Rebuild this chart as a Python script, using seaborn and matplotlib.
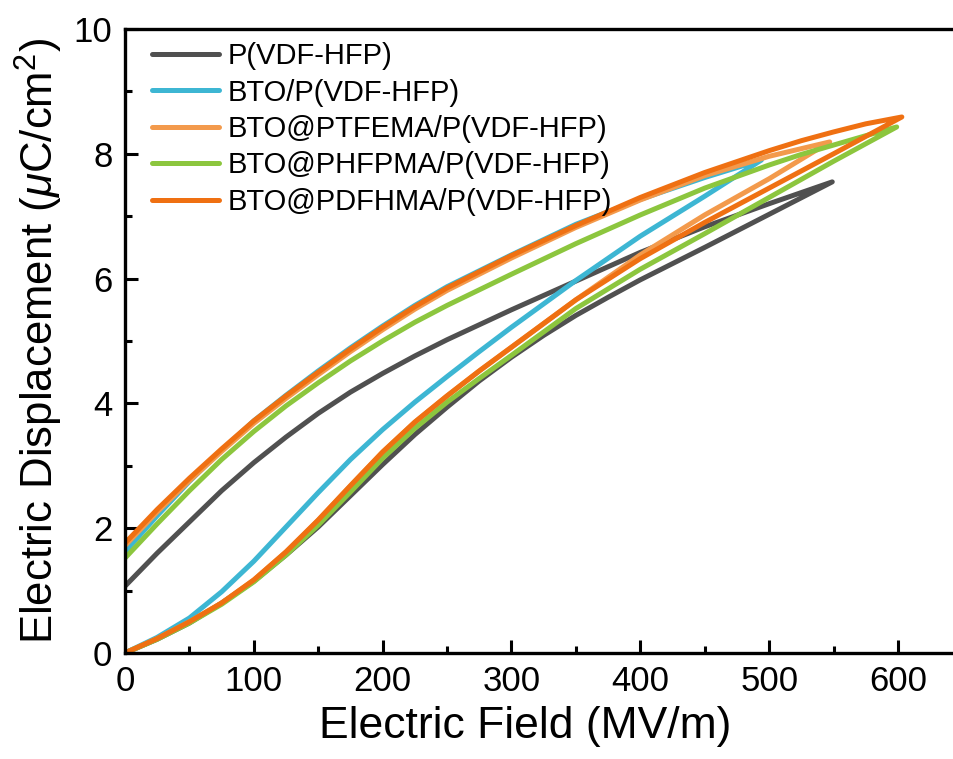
import matplotlib
matplotlib.use("Agg")
import matplotlib.pyplot as plt
from matplotlib.ticker import MultipleLocator
import pandas as pd
import seaborn as sns

# unipolar D-E loops: charging branch (E up), then discharging branch (E down)
pvdf_e_up = [0, 25, 50, 75, 100, 125, 150, 175, 200, 225, 250, 275, 300, 325, 350, 375, 400, 450, 500, 549]
pvdf_d_up = [0, 0.22, 0.48, 0.8, 1.15, 1.57, 2.02, 2.52, 3.02, 3.5, 3.94, 4.36, 4.74, 5.09, 5.41, 5.7, 5.98, 6.5, 7.03, 7.55]
pvdf_e_down = [549, 500, 450, 400, 350, 300, 250, 225, 200, 175, 150, 125, 100, 75, 50, 25, 0]
pvdf_d_down = [7.55, 7.2, 6.83, 6.42, 5.96, 5.5, 5.02, 4.76, 4.48, 4.18, 3.84, 3.46, 3.05, 2.6, 2.1, 1.6, 1.07]

bto_e_up = [0, 25, 50, 75, 100, 125, 150, 175, 200, 225, 250, 275, 300, 350, 400, 450, 494]
bto_d_up = [0, 0.25, 0.56, 0.98, 1.47, 2.02, 2.57, 3.1, 3.58, 4.02, 4.43, 4.83, 5.22, 5.97, 6.68, 7.32, 7.9]
bto_e_down = [494, 450, 400, 350, 300, 250, 225, 200, 175, 150, 125, 100, 75, 50, 25, 0]
bto_d_down = [7.9, 7.62, 7.27, 6.87, 6.38, 5.87, 5.57, 5.24, 4.89, 4.52, 4.13, 3.72, 3.25, 2.75, 2.2, 1.62]

ptfema_e_up = [0, 25, 50, 75, 100, 125, 150, 175, 200, 225, 250, 275, 300, 350, 400, 450, 500, 547]
ptfema_d_up = [0, 0.23, 0.5, 0.8, 1.17, 1.62, 2.13, 2.68, 3.22, 3.7, 4.12, 4.52, 4.9, 5.66, 6.38, 7.02, 7.6, 8.19]
ptfema_e_down = [547, 500, 450, 400, 350, 300, 250, 225, 200, 175, 150, 125, 100, 75, 50, 25, 0]
ptfema_d_down = [8.19, 7.96, 7.65, 7.26, 6.82, 6.33, 5.81, 5.51, 5.18, 4.83, 4.46, 4.08, 3.68, 3.23, 2.76, 2.26, 1.72]

phfpma_e_up = [0, 25, 50, 75, 100, 125, 150, 175, 200, 225, 250, 275, 300, 350, 400, 450, 500, 550, 599]
phfpma_d_up = [0, 0.22, 0.48, 0.78, 1.14, 1.57, 2.05, 2.58, 3.12, 3.6, 4.02, 4.4, 4.77, 5.52, 6.15, 6.72, 7.3, 7.88, 8.43]
phfpma_e_down = [599, 575, 550, 525, 500, 450, 400, 350, 300, 250, 225, 200, 175, 150, 125, 100, 75, 50, 25, 0]
phfpma_d_down = [8.43, 8.29, 8.14, 7.99, 7.82, 7.45, 7.02, 6.56, 6.07, 5.57, 5.3, 5.0, 4.68, 4.33, 3.96, 3.55, 3.1, 2.6, 2.07, 1.52]

pdfhma_e_up = [0, 25, 50, 75, 100, 125, 150, 175, 200, 225, 250, 275, 300, 350, 400, 450, 500, 550, 603]
pdfhma_d_up = [0, 0.23, 0.5, 0.8, 1.17, 1.62, 2.13, 2.68, 3.22, 3.7, 4.12, 4.52, 4.9, 5.66, 6.32, 6.9, 7.45, 8.0, 8.59]
pdfhma_e_down = [603, 575, 550, 525, 500, 450, 400, 350, 300, 250, 225, 200, 175, 150, 125, 100, 75, 50, 25, 0]
pdfhma_d_down = [8.59, 8.48, 8.35, 8.21, 8.05, 7.7, 7.3, 6.85, 6.37, 5.85, 5.55, 5.22, 4.87, 4.5, 4.12, 3.72, 3.27, 2.8, 2.3, 1.76]

muestras = [
    "P(VDF-HFP)",
    "BTO/P(VDF-HFP)",
    "BTO@PTFEMA/P(VDF-HFP)",
    "BTO@PHFPMA/P(VDF-HFP)",
    "BTO@PDFHMA/P(VDF-HFP)",
]
colores = ["#505050", "#3db6d3", "#f39a4c", "#8cc63e", "#ef7012"]

lazos = [
    (pvdf_e_up + pvdf_e_down, pvdf_d_up + pvdf_d_down),
    (bto_e_up + bto_e_down, bto_d_up + bto_d_down),
    (ptfema_e_up + ptfema_e_down, ptfema_d_up + ptfema_d_down),
    (phfpma_e_up + phfpma_e_down, phfpma_d_up + phfpma_d_down),
    (pdfhma_e_up + pdfhma_e_down, pdfhma_d_up + pdfhma_d_down),
]

filas = []
for nombre, (campo, desplazamiento) in zip(muestras, lazos):
    for e, d in zip(campo, desplazamiento):
        filas.append({"muestra": nombre, "E": e, "D": d})
df = pd.DataFrame(filas)

sns.set_style("ticks")
plt.rcParams["font.family"] = ["Liberation Sans", "DejaVu Sans"]
plt.rcParams["mathtext.fontset"] = "custom"
plt.rcParams["mathtext.rm"] = "Liberation Sans"
plt.rcParams["mathtext.it"] = "Liberation Sans:italic"
for clave in ["text.color", "axes.labelcolor", "xtick.color", "ytick.color", "axes.edgecolor"]:
    plt.rcParams[clave] = "black"

fig = plt.figure(figsize=(9.54, 7.59), dpi=100)
ax = fig.add_axes([0.131, 0.1397, 0.8778, 0.8221])

sns.lineplot(
    data=df,
    x="E",
    y="D",
    hue="muestra",
    hue_order=muestras,
    palette=dict(zip(muestras, colores)),
    units="muestra",
    estimator=None,
    sort=False,
    linewidth=3.6,
    ax=ax,
)

ax.set_xlim(0, 650)
ax.set_ylim(0, 10)
ax.xaxis.set_major_locator(MultipleLocator(100))
ax.xaxis.set_minor_locator(MultipleLocator(50))
ax.yaxis.set_major_locator(MultipleLocator(2))
ax.yaxis.set_minor_locator(MultipleLocator(1))
ax.tick_params(which="both", direction="in", width=2.2, labelsize=25,
               top=False, right=False)
ax.tick_params(which="major", length=9.5, pad=9)
ax.tick_params(which="minor", length=5)
for lado in ax.spines.values():
    lado.set_linewidth(2.4)

ax.set_xlabel("Electric Field (MV/m)", fontsize=32, labelpad=6)
ax.xaxis.set_label_coords((525 - 125) / 837, -0.085)
ax.set_ylabel(r"Electric Displacement ($\mu$C/cm$^2$)", fontsize=31.5, labelpad=6)

ax.legend(
    loc="upper left",
    bbox_to_anchor=(0.032, 0.979),
    frameon=False,
    fontsize=21,
    handlelength=2.3,
    handletextpad=0.3,
    labelspacing=0.29,
    borderaxespad=0,
    borderpad=0,
)
for linea in ax.get_legend().get_lines():
    linea.set_linewidth(3.6)

fig.savefig("out.png", dpi=100)
